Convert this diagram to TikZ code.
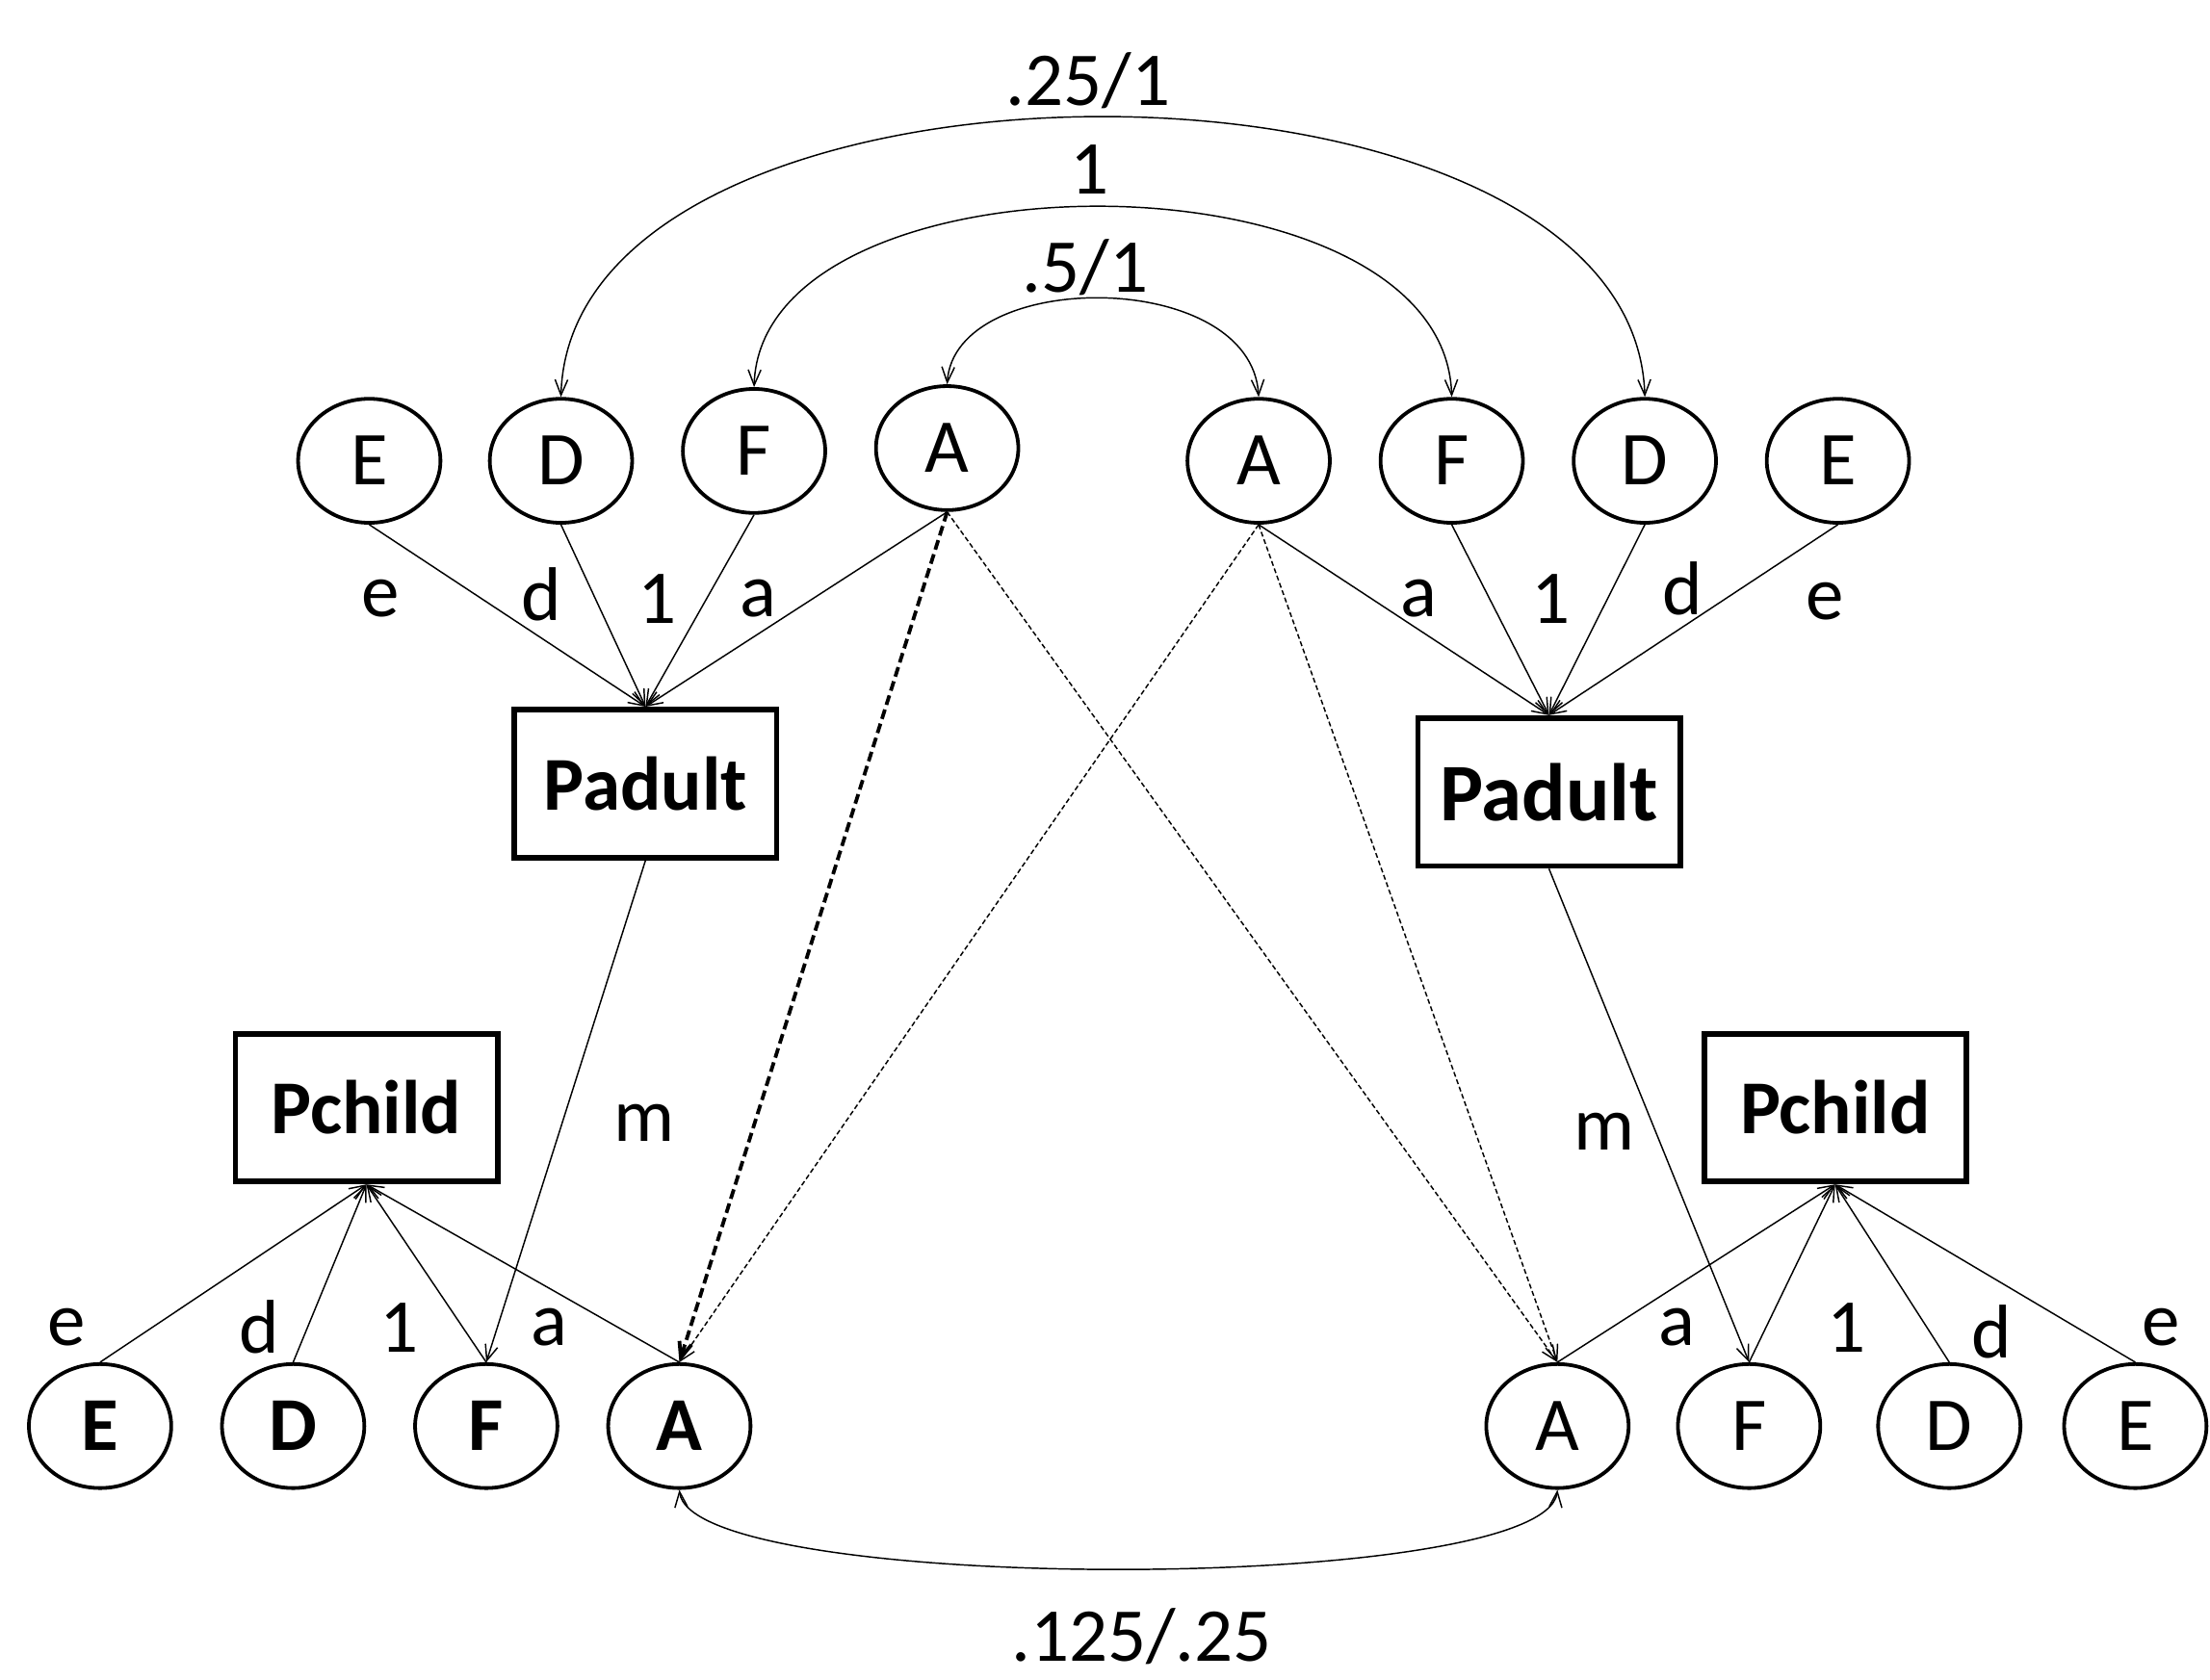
\documentclass[tikz,border=0pt]{standalone}
\usepackage{fontspec}
\setmainfont{Carlito}
\usetikzlibrary{shapes.geometric,arrows.meta}
\newcommand{\pathfont}{\fontsize{54}{60}\selectfont}
\tikzset{
	latent/.style={shape=ellipse, draw, line width=2.6pt, minimum width=101pt, minimum height=88pt, inner sep=0pt, font=\pathfont},
	pheno/.style={shape=rectangle, draw, line width=4pt, minimum width=186pt, minimum height=105pt, inner sep=0pt, font=\pathfont\bfseries},
	coef/.style={inner sep=0pt, font=\pathfont},
	pth/.style={->, line width=1pt},
	cov/.style={<->, line width=1pt},
	trans/.style={->, line width=1pt, dash pattern={on 3.5pt off 2pt}},
	transbold/.style={->, line width=2.6pt, dash pattern={on 7pt off 3.5pt}}
}
\begin{document}
\begin{tikzpicture}[x=1pt, y=-1pt, >={Straight Barb[length=11pt, width=9pt]}]
	% Paths, nodes and wires:
	\useasboundingbox (0, 0) rectangle (1568, 1192);
	\node[latent] (eP1) at (262, 327){E};
	\node[latent] (dP1) at (398, 327){D};
	\node[latent] (fP1) at (535, 320){F};
	\node[latent] (aP1) at (672, 318){A};
	\node[latent] (aP2) at (893, 327){A};
	\node[latent] (fP2) at (1030, 327){F};
	\node[latent] (dP2) at (1167, 327){D};
	\node[latent] (eP2) at (1304, 327){E};
	\node[pheno] (padult1) at (458, 556){Padult};
	\node[pheno, font=\fontsize{58}{62}\selectfont\bfseries] (padult2) at (1099, 562){Padult};
	\node[pheno] (pchild1) at (260, 786){Pchild};
	\node[pheno] (pchild2) at (1302, 786){Pchild};
	\node[latent, font=\pathfont\bfseries] (eC1) at (71, 1012){E};
	\node[latent, font=\pathfont\bfseries] (dC1) at (208, 1012){D};
	\node[latent, font=\pathfont\bfseries] (fC1) at (345, 1012){F};
	\node[latent, font=\pathfont\bfseries] (aC1) at (482, 1012){A};
	\node[latent] (aC2) at (1105, 1012){A};
	\node[latent] (fC2) at (1241, 1012){F};
	\node[latent] (dC2) at (1383, 1012){D};
	\node[latent] (eC2) at (1515, 1012){E};
	\draw[pth] (eP1.south) -- (padult1.north);
	\draw[pth] (dP1.south) -- (padult1.north);
	\draw[pth] (fP1.south) -- (padult1.north);
	\draw[pth] (aP1.south) -- (padult1.north);
	\draw[pth] (aP2.south) -- (padult2.north);
	\draw[pth] (fP2.south) -- (padult2.north);
	\draw[pth] (dP2.south) -- (padult2.north);
	\draw[pth] (eP2.south) -- (padult2.north);
	\draw[pth] (eC1.north) -- (pchild1.south);
	\draw[pth] (dC1.north) -- (pchild1.south);
	\draw[pth] (fC1.north) -- (pchild1.south);
	\draw[pth] (aC1.north) -- (pchild1.south);
	\draw[pth] (aC2.north) -- (pchild2.south);
	\draw[pth] (fC2.north) -- (pchild2.south);
	\draw[pth] (dC2.north) -- (pchild2.south);
	\draw[pth] (eC2.north) -- (pchild2.south);
	\draw[pth] (padult1.south) -- (fC1.north);
	\draw[pth] (padult2.south) -- (fC2.north);
	\draw[transbold] (aP1.south) -- (aC1.north);
	\draw[trans] (aP1.south) -- (aC2.north);
	\draw[trans] (aP2.south) -- (aC1.north);
	\draw[trans] (aP2.south) -- (aC2.north);
	\draw[cov] (dP1.north) .. controls (405, 17) and (1159, 17) .. (dP2.north);
	\draw[cov] (fP1.north) .. controls (540, 103) and (1025, 103) .. (fP2.north);
	\draw[cov] (aP1.north) .. controls (677, 190) and (888, 190) .. (aP2.north);
	\draw[cov] (aC1.south) .. controls (490, 1132) and (1097, 1132) .. (aC2.south);
	\node[coef] (r-outer) at (772, 57){.25/1};
	\node[coef] (r-middle) at (773, 120){1};
	\node[coef] (r-inner) at (770, 190){.5/1};
	\node[coef] (r-child) at (810, 1161){.125/.25};
	\node[coef] (e-p1) at (270, 425){e};
	\node[coef] (d-p1) at (384, 422){d};
	\node[coef] (f-p1) at (466, 425){1};
	\node[coef] (a-p1) at (538, 425){a};
	\node[coef] (a-p2) at (1007, 425){a};
	\node[coef] (f-p2) at (1100, 425){1};
	\node[coef] (d-p2) at (1194, 418){d};
	\node[coef] (e-p2) at (1295, 427){e};
	\node[coef] (e-c1) at (47, 942){e};
	\node[coef] (d-c1) at (184, 942){d};
	\node[coef] (f-c1) at (283, 942){1};
	\node[coef] (a-c1) at (390, 942){a};
	\node[coef] (a-c2) at (1190, 942){a};
	\node[coef] (f-c2) at (1310, 942){1};
	\node[coef] (d-c2) at (1413, 945){d};
	\node[coef] (e-c2) at (1533, 942){e};
	\node[coef] (m-1) at (457, 797){m};
	\node[coef] (m-2) at (1138, 803){m};
\end{tikzpicture}
\end{document}
